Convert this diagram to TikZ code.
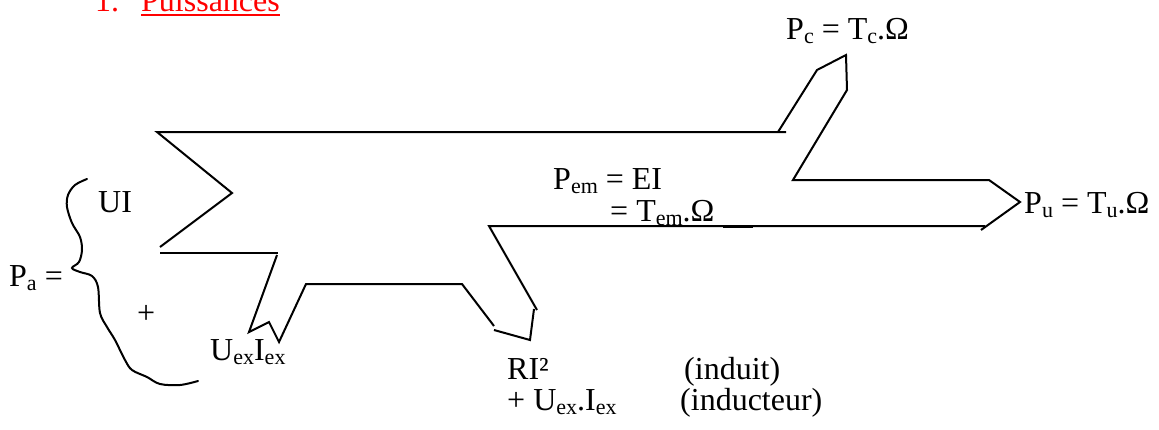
\documentclass[tikz,border=0pt]{standalone}
\usepackage{fontspec}
\setmainfont{Liberation Serif}
% lowered index in the style of a word-processor subscript
\newcommand{\lowidx}[1]{\raisebox{-4.5pt}{\fontsize{22}{22}\selectfont #1}}
\begin{document}
\begin{tikzpicture}[x=1pt,y=-1pt,
  outline/.style={line width=2pt, line join=miter, line cap=butt},
  txt/.style={anchor=base west, inner sep=0pt, font=\fontsize{32}{32}\selectfont},
  brace/.style={line width=2pt, line cap=round}]
\useasboundingbox (0,0) rectangle (1159,429);

% ---- heading
\node[txt, text=red] (num) at (95,11) {1.};
\node[txt, text=red] (title) at (141,11) {Puissances};
\draw[red, line width=2pt] ([yshift=-4pt]title.base west) -- ([yshift=-4pt]title.base east);

% ---- outline of the power flow
\coordinate (tl)  at (157,132);
\coordinate (tr)  at (786,132);
\coordinate (nk)  at (232,193);
\coordinate (bl)  at (160,247);
\coordinate (bl2) at (160,253);
\coordinate (br2) at (278,253);

% upper edge and entry notch
\draw[outline] (tr) -- (tl) -- (nk) -- (bl);
\draw[outline] (bl2) -- (br2);

% excitation branch
\draw[outline] (277,255) -- (249,332) -- (269,322) -- (279,342) -- (306,284)
  -- (462,284) -- (494,326);
\draw[outline] (494,330) -- (530,340) -- (534,309);

% lower edge and useful power arrow
\draw[outline] (537,310) -- (489,226) -- (985,226);
\draw[line width=3pt] (723,226) -- (753,226);
\draw[outline] (778,132) -- (817,70) -- (846,55) -- (847,90) -- (793,180)
  -- (989,180) -- (1020,202) -- (981,230);

% ---- curly brace of the absorbed power
\draw[brace] plot[smooth, tension=0.55] coordinates {
  (87,179) (75,185) (68,195) (67,207) (72,223) (80,237) (82,250) (79,262)
  (72,268) (80,272) (92,276) (98,287) (100,313) (107,327) (115,340)
  (125,360) (132,370) (147,377) (160,384) (180,385) (198,381)};

% ---- labels
\node[txt] (pa)  at (9,286)    {P\lowidx{a} =};
\node[txt] (ui)  at (98,212)   {UI};
\node[txt] (plus) at (137,323) {+};
\node[txt] (uex) at (210,360)  {U\lowidx{ex}I\lowidx{ex}};
\node[txt] (pem) at (553,189)  {P\lowidx{em} = EI};
\node[txt] (tem) at (610,221)  {= T\lowidx{em}.Ω};
\node[txt] (pc)  at (786,39)   {P\lowidx{c} = T\lowidx{c}.Ω};
\node[txt] (pu)  at (1024,213) {P\lowidx{u} = T\lowidx{u}.Ω};
\node[txt] (ri)  at (507,379)  {RI²};
\node[txt] (ind) at (684,379)  {(induit)};
\node[txt] (uexi) at (507,410) {+ U\lowidx{ex}.I\lowidx{ex}};
\node[txt] (indc) at (680,410) {(inducteur)};
\end{tikzpicture}
\end{document}
